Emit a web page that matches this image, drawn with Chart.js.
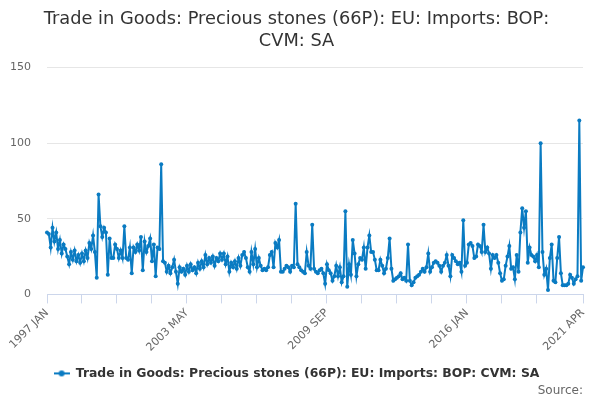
<!DOCTYPE html>
<html>
<head>
<meta charset="utf-8">
<script src="https://cdn.jsdelivr.net/npm/chart.js@4/dist/chart.umd.min.js"></script>
<style>
  html, body { margin: 0; padding: 0; background: #fff; }
  #wrap { width: 600px; height: 400px; }
</style>
</head>
<body>
<div id="wrap"><canvas id="c" width="600" height="400"></canvas></div>
<script>
const seriesName = 'Trade in Goods: Precious stones (66P): EU: Imports: BOP: CVM: SA';
const startYear = 1997;
const monthNames = ['JAN','FEB','MAR','APR','MAY','JUN','JUL','AUG','SEP','OCT','NOV','DEC'];
const yTicks = [0, 50, 100, 150];
const labelledMonths = ['1997 JAN', '2003 MAY', '2009 SEP', '2016 JAN', '2021 APR'];

const y1997 = [41, 40, 31, 44, 35, 41, 30, 36, 27, 33, 30, 25];
const y1998 = [20, 28, 23, 29, 22, 26, 21, 27, 22, 29, 24, 34];
const y1999 = [30, 39, 28, 11, 66, 45, 38, 44, 41, 13, 37, 24];
const y2000 = [24, 33, 30, 24, 29, 24, 45, 24, 23, 31, 14, 31];
const y2001 = [28, 33, 29, 38, 16, 35, 28, 32, 37, 22, 33, 12];
const y2002 = [31, 30, 86, 22, 21, 15, 19, 14, 18, 23, 15, 7];
const y2003 = [18, 15, 17, 13, 19, 15, 20, 16, 18, 14, 21, 17];
const y2004 = [22, 18, 26, 20, 24, 21, 25, 19, 24, 22, 27, 23];
const y2005 = [27, 20, 25, 15, 21, 18, 22, 17, 24, 19, 26, 28];
const y2006 = [24, 18, 15, 28, 20, 30, 18, 24, 19, 16, 17, 16];
const y2007 = [18, 26, 28, 18, 34, 31, 36, 15, 15, 17, 19, 18];
const y2008 = [15, 19, 18, 60, 20, 18, 16, 15, 14, 28, 19, 17];
const y2009 = [46, 17, 15, 14, 16, 17, 14, 7, 20, 16, 14, 9];
const y2010 = [12, 19, 12, 18, 8, 12, 55, 5, 20, 13, 36, 27];
const y2011 = [12, 20, 24, 23, 31, 17, 31, 39, 28, 28, 23, 16];
const y2012 = [16, 23, 19, 14, 17, 24, 37, 17, 9, 10, 11, 12];
const y2013 = [14, 10, 11, 9, 33, 9, 6, 8, 11, 12, 13, 15];
const y2014 = [17, 15, 18, 27, 15, 18, 21, 22, 21, 19, 15, 19];
const y2015 = [21, 26, 19, 12, 26, 24, 22, 20, 21, 15, 49, 19];
const y2016 = [21, 33, 34, 32, 24, 25, 33, 32, 28, 46, 28, 31];
const y2017 = [27, 17, 26, 24, 26, 21, 14, 9, 10, 19, 25, 32];
const y2018 = [17, 18, 10, 26, 15, 41, 57, 44, 55, 21, 31, 26];
const y2019 = [25, 22, 26, 18, 100, 28, 13, 17, 3, 24, 33, 9];
const y2020 = [8, 24, 38, 14, 6, 6, 6, 7, 13, 11, 7, 10];
const y2021 = [12, 115, 9, 18];

const values = [].concat(y1997, y1998, y1999, y2000, y2001, y2002, y2003, y2004,
  y2005, y2006, y2007, y2008, y2009, y2010, y2011, y2012, y2013, y2014, y2015,
  y2016, y2017, y2018, y2019, y2020, y2021);

const categories = values.map((v, i) =>
  (startYear + Math.floor(i / 12)) + ' ' + monthNames[i % 12]);

const lastIdx = categories.length - 1;
function hasTickMark(i) {
  return (i % 19 === 0 && i <= lastIdx - 10) || i === lastIdx;
}

const lineColor = '#0a7bc2';
const fontFam = '"DejaVu Sans", "Liberation Sans", sans-serif';

// legend symbol: line with a dot
const sym = document.createElement('canvas');
sym.width = 16; sym.height = 10;
(function () {
  const g = sym.getContext('2d');
  g.strokeStyle = lineColor; g.lineWidth = 2;
  g.beginPath(); g.moveTo(0, 5); g.lineTo(16, 5); g.stroke();
  g.fillStyle = lineColor;
  g.beginPath(); g.arc(8, 5, 3, 0, Math.PI * 2); g.fill();
})();

// let the first rotated x label hang into the left margin (as in the reference)
const noXPadding = {
  id: 'noXPadding',
  beforeLayout(chart) {
    const sx = chart.scales.x;
    if (sx && !sx._patchedPad) {
      const orig = sx.getPadding.bind(sx);
      sx.getPadding = function () {
        const p = orig();
        return { left: 0, top: p.top, right: p.right, bottom: p.bottom };
      };
      sx._patchedPad = true;
    }
  }
};

new Chart(document.getElementById('c'), {
  type: 'line',
  data: {
    labels: categories,
    datasets: [{
      label: seriesName,
      data: values,
      borderColor: lineColor,
      backgroundColor: lineColor,
      borderWidth: 2,
      pointRadius: 2,
      pointHoverRadius: 3,
      pointBackgroundColor: lineColor,
      pointBorderWidth: 0,
      tension: 0
    }]
  },
  plugins: [noXPadding],
  options: {
    responsive: false,
    animation: false,
    devicePixelRatio: 1,
    layout: { padding: { left: 10, right: 17, top: 8, bottom: 2 } },
    plugins: {
      title: {
        display: true,
        text: ['Trade in Goods: Precious stones (66P): EU: Imports: BOP:', 'CVM: SA'],
        color: '#333333',
        font: { family: fontFam, size: 17.8, weight: 'normal', lineHeight: 1.25 },
        padding: { top: 0, bottom: 15 }
      },
      subtitle: {
        display: true,
        position: 'bottom',
        align: 'end',
        text: 'Source:',
        color: '#666666',
        font: { family: fontFam, size: 12, weight: 'normal' },
        padding: { top: -6, bottom: 0 }
      },
      legend: {
        display: true,
        position: 'bottom',
        labels: {
          color: '#333333',
          font: { family: fontFam, size: 12.4, weight: 'bold' },
          usePointStyle: true,
          pointStyleWidth: 16,
          padding: 10,
          generateLabels: function (chart) {
            const items = Chart.defaults.plugins.legend.labels.generateLabels(chart);
            items.forEach(it => { it.pointStyle = sym; });
            return items;
          }
        }
      },
      tooltip: { enabled: false }
    },
    scales: {
      x: {
        type: 'category',
        offset: false,
        afterFit: s => { s.paddingLeft = 0; },
        grid: {
          drawOnChartArea: false,
          drawTicks: true,
          tickLength: 9,
          color: ctx => hasTickMark(ctx.index) ? '#ccd6eb' : 'rgba(0,0,0,0)',
          lineWidth: 1
        },
        border: { display: true, color: '#ccd6eb', width: 1 },
        ticks: {
          autoSkip: false,
          minRotation: 45,
          maxRotation: 45,
          color: '#666666',
          font: { family: fontFam, size: 11 },
          padding: 3,
          callback: function (val, i) {
            const lab = categories[i];
            return labelledMonths.includes(lab) ? lab : '';
          }
        }
      },
      y: {
        min: 0,
        max: 150,
        afterBuildTicks: axis => { axis.ticks = yTicks.map(v => ({ value: v })); },
        afterFit: s => { s.width = 37; },
        grid: { color: '#e6e6e6', drawTicks: false, lineWidth: 1 },
        border: { display: false },
        ticks: {
          color: '#666666',
          font: { family: fontFam, size: 11 },
          padding: 16
        }
      }
    }
  }
});
</script>
</body>
</html>
